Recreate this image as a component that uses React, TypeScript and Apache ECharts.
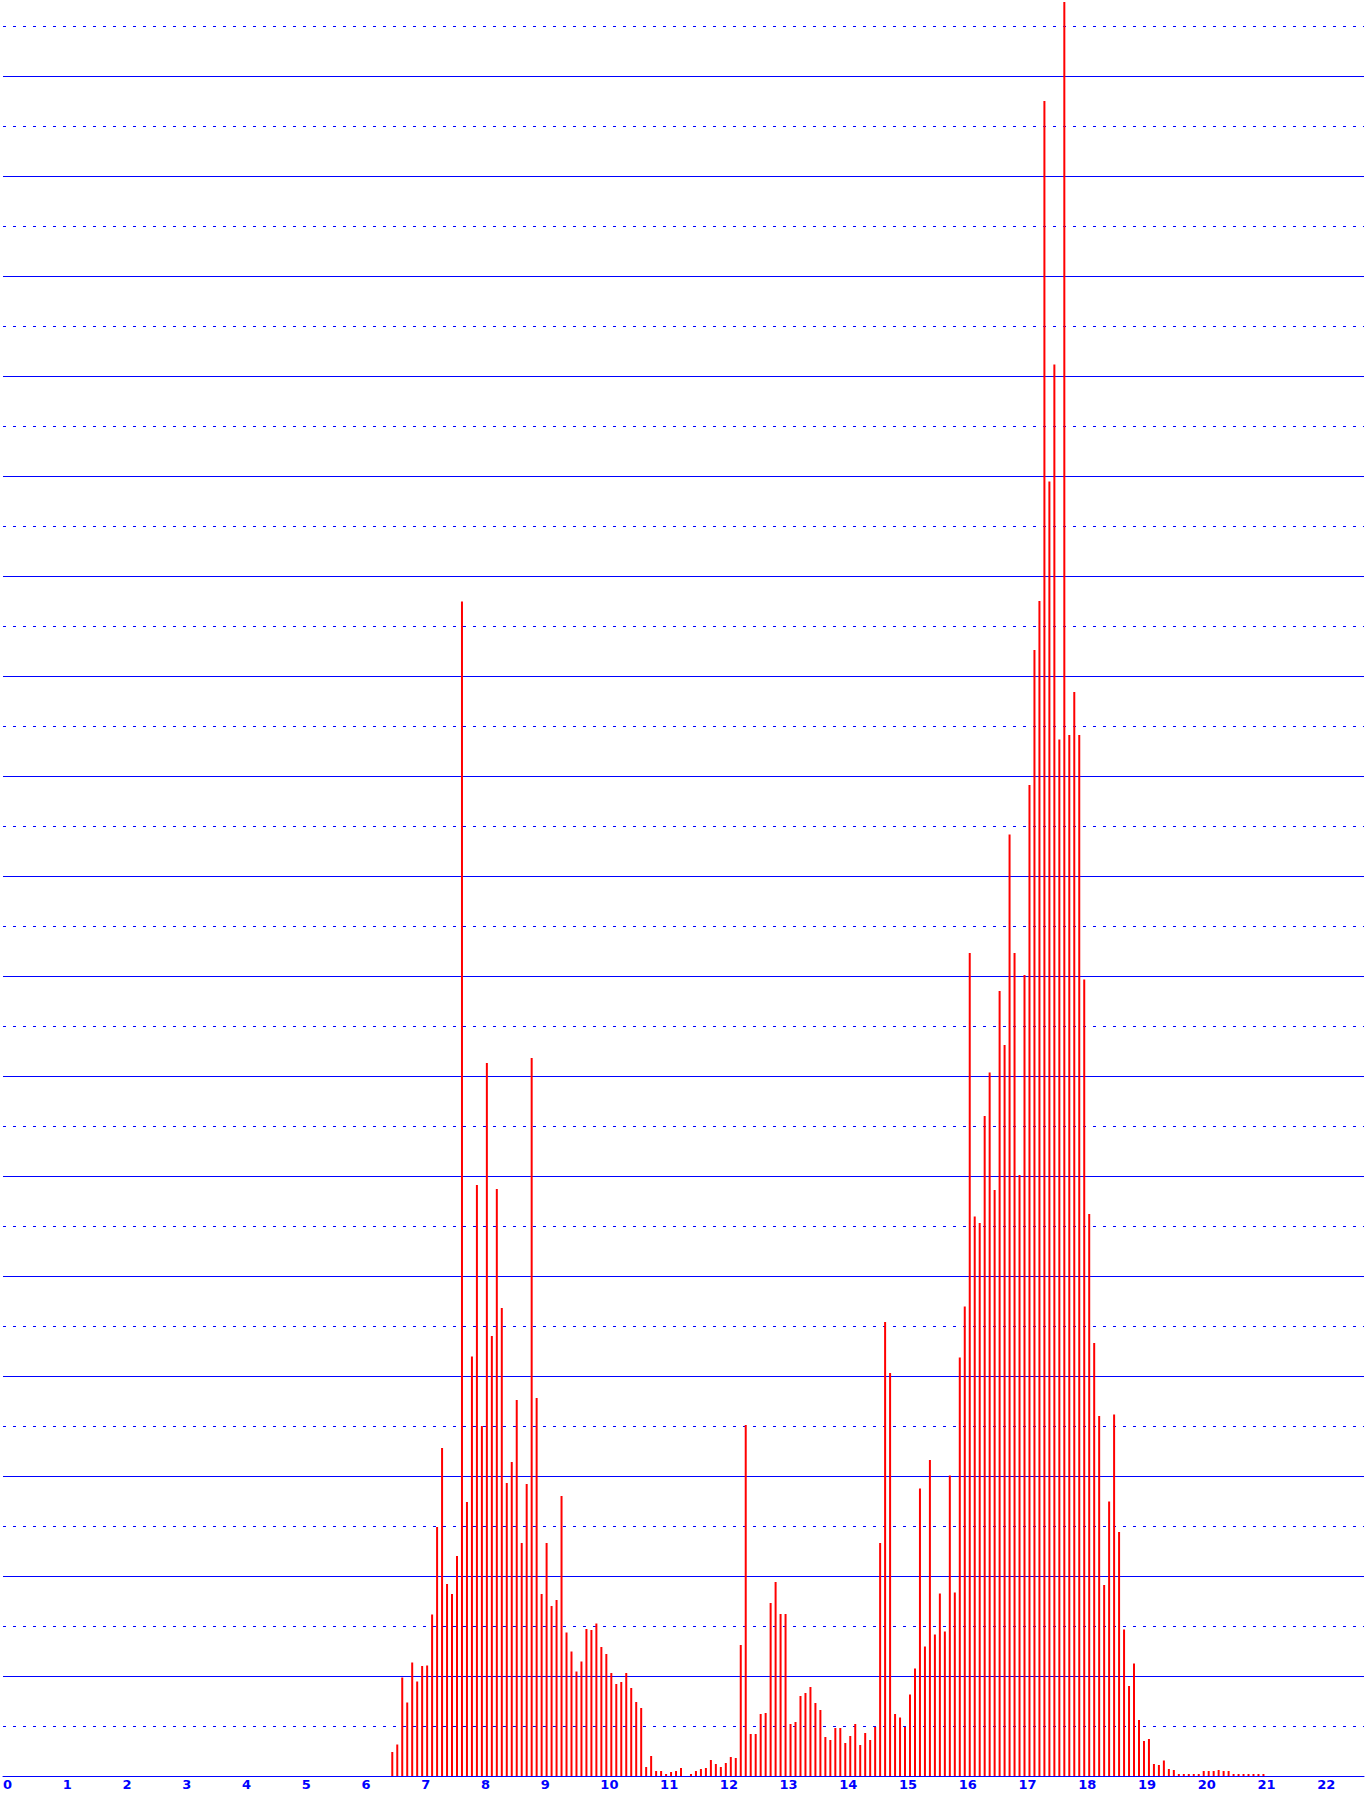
import React, { useEffect, useRef } from "react";
import * as echarts from "echarts";

// Histogram bins: start at 6.5, width 1/12
const BIN_START = 6.5;
const BIN_WIDTH = 1 / 12;

// Bar heights (one unit = one minor gridline step)
const counts: number[] = [
  0.48, 0.63, 1.97, 1.47, 2.27, 1.89, 2.2, 2.21, 3.23, 4.98,
  6.56, 3.84, 3.64, 4.4, 23.49, 5.48, 8.39, 11.82, 7.0, 14.26,
  8.8, 11.74, 9.36, 5.86, 6.28, 7.52, 4.66, 5.84, 14.36, 7.56,
  3.64, 4.66, 3.4, 3.52, 5.6, 2.87, 2.49, 2.09, 2.29, 2.94,
  2.92, 3.05, 2.58, 2.44, 2.06, 1.84, 1.88, 2.06, 1.76, 1.48,
  1.36, 0.18, 0.4, 0.1, 0.1, 0.04, 0.08, 0.1, 0.16, 0,
  0.04, 0.1, 0.14, 0.16, 0.32, 0.24, 0.18, 0.26, 0.38, 0.36,
  2.62, 7.02, 0.84, 0.84, 1.24, 1.26, 3.46, 3.88, 3.24, 3.24,
  1.04, 1.08, 1.6, 1.66, 1.78, 1.46, 1.32, 0.78, 0.72, 0.96,
  0.96, 0.66, 0.8, 1.04, 0.62, 0.86, 0.72, 0.98, 4.66, 9.08,
  8.06, 1.24, 1.17, 0.98, 1.63, 2.15, 5.75, 2.59, 6.32, 2.83,
  3.65, 2.89, 6.01, 3.67, 8.37, 9.39, 16.46, 11.19, 11.06, 13.2,
  14.07, 11.72, 15.7, 14.62, 18.83, 16.46, 12.02, 16.02, 19.82, 22.52,
  23.5, 33.5, 25.89, 28.23, 20.73, 35.48, 20.82, 21.68, 20.82, 15.93,
  11.24, 8.66, 7.2, 3.82, 5.49, 7.23, 4.88, 2.93, 1.8, 2.25,
  1.12, 0.7, 0.74, 0.24, 0.22, 0.31, 0.14, 0.12, 0.04, 0.04,
  0.04, 0.04, 0.04, 0.1, 0.1, 0.1, 0.12, 0.1, 0.1, 0.04,
  0.04, 0.04, 0.04, 0.04, 0.04, 0.04,
];

// x tick labels
const xTickLabels: string[] = [
  "0", "1", "2", "3", "4", "5", "6", "7", "8", "9", "10", "11",
  "12", "13", "14", "15", "16", "17", "18", "19", "20", "21", "22",
];

const X_MAX = 1367 / 60;
const Y_MAX = 1776 / 50;
const BAR_HALF = 1 / 60;

export default function App() {
  const ref = useRef<HTMLDivElement>(null);
  useEffect(() => {
    document.body.style.margin = "0";
    const chart = echarts.init(ref.current!, null, { renderer: "svg" });
    const data = counts.map((c, k) => [BIN_START + k * BIN_WIDTH + BAR_HALF, c]);
    const hiddenAxisParts = {
      axisLine: { show: false },
      axisTick: { show: false },
      axisLabel: { show: false },
    };
    chart.setOption({
      animation: false,
      grid: { left: 0, right: 0, top: 0, bottom: 20, containLabel: false },
      xAxis: {
        type: "value",
        min: 0,
        max: X_MAX,
        interval: 1,
        axisLine: { show: true, onZero: false, lineStyle: { color: "#0000ff", width: 1 } },
        axisTick: { show: false },
        splitLine: { show: false },
        axisLabel: {
          color: "#0000ff",
          fontFamily: "DejaVu Sans",
          fontWeight: "bold",
          fontSize: 13,
          align: "left",
          margin: 2,
          formatter: (v: number) =>
            Number.isInteger(v) && xTickLabels[v] !== undefined ? xTickLabels[v] : "",
        },
      },
      yAxis: [
        {
          type: "value",
          min: 0,
          max: Y_MAX,
          interval: 2,
          ...hiddenAxisParts,
          splitLine: {
            show: true,
            showMinLine: false,
            showMaxLine: false,
            lineStyle: { color: "#0000ff", width: 1, type: "solid" },
          },
        },
        {
          type: "value",
          min: 0,
          max: Y_MAX,
          interval: 1,
          position: "left",
          ...hiddenAxisParts,
          splitLine: {
            show: true,
            showMinLine: false,
            showMaxLine: false,
            lineStyle: { color: "#0000ff", width: 1, type: [3, 7] },
          },
        },
      ],
      series: [
        {
          type: "bar",
          data,
          barWidth: 2,
          xAxisIndex: 0,
          yAxisIndex: 0,
          itemStyle: { color: "#ff0000" },
        },
      ],
    });
    return () => chart.dispose();
  }, []);
  return (
    <div
      ref={ref}
      style={{ position: "absolute", left: 0, top: 0, width: 1367, height: 1796 }}
    />
  );
}
